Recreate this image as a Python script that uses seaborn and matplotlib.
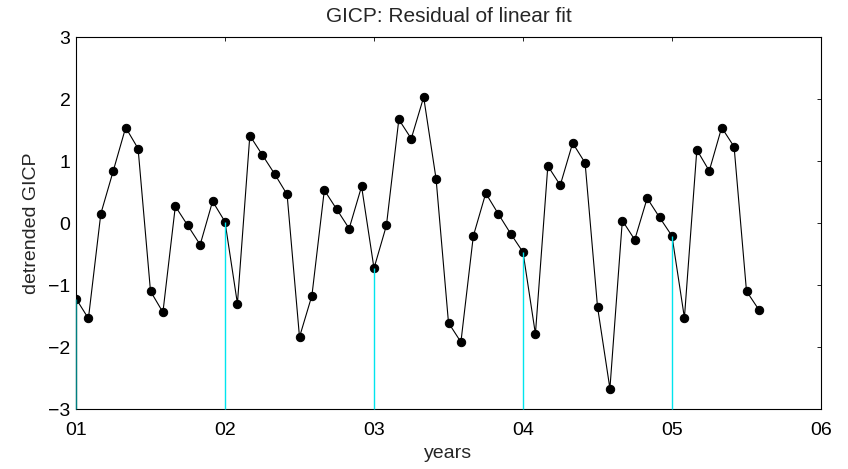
import numpy as np
import pandas as pd
import matplotlib
matplotlib.use("Agg")
import matplotlib.pyplot as plt
import seaborn as sns

# monthly residuals, starting January of year 01
residuals = [
    -1.22, -1.54, 0.15, 0.84, 1.54, 1.20, -1.10, -1.44, 0.27, -0.04, -0.35, 0.35,
    0.02, -1.30, 1.41, 1.10, 0.79, 0.46, -1.84, -1.17, 0.53, 0.22, -0.09, 0.59,
    -0.73, -0.04, 1.67, 1.36, 2.03, 0.71, -1.61, -1.92, -0.21, 0.48, 0.15, -0.17,
    -0.47, -1.79, 0.92, 0.61, 1.29, 0.97, -1.35, -2.67, 0.04, -0.27, 0.40, 0.09,
    -0.21, -1.53, 1.18, 0.84, 1.54, 1.23, -1.10, -1.40,
]
start_year = 1
months_per_year = 12
year_ticks = [1, 2, 3, 4, 5, 6]
year_labels = ["01", "02", "03", "04", "05", "06"]
y_ticks = [-3, -2, -1, 0, 1, 2, 3]

years = start_year + np.arange(len(residuals)) / months_per_year
df = pd.DataFrame({"years": years, "resid": residuals})

sns.set_style("white")
plt.rcParams["font.family"] = ["Liberation Sans", "DejaVu Sans"]

fig = plt.figure(figsize=(8.48, 4.69), dpi=100)
ax = fig.add_axes([76 / 848, 60 / 469, 745 / 848, 372 / 469])

ymin, ymax = -3, 3
# January stems
jan = df.iloc[::months_per_year]
stem_colors = ["#007f80"] + ["#00e5ee"] * (len(jan) - 1)
ax.vlines(jan["years"], ymin, jan["resid"], colors=stem_colors, linewidth=1.0,
          zorder=4, clip_on=False)

sns.lineplot(data=df, x="years", y="resid", ax=ax, color="black", linewidth=0.8,
             marker="o", markersize=6, markeredgecolor="black", zorder=3)

ax.set_xlim(year_ticks[0], year_ticks[-1])
ax.set_ylim(ymin, ymax)
ax.set_xticks(year_ticks)
ax.set_xticklabels(year_labels)
ax.set_yticks(y_ticks)
ax.tick_params(direction="in", top=True, right=True, length=3, width=0.6,
               labelsize=14, colors="black")
ax.tick_params(axis="x", pad=9)
ax.tick_params(axis="y", pad=4)
for s in ax.spines.values():
    s.set_visible(True)
    s.set_color("black")
    s.set_linewidth(0.8)
ax.set_xlabel("years", fontsize=14, labelpad=5)
ax.set_ylabel("detrended GICP", fontsize=14, labelpad=6)
ax.set_title("GICP: Residual of linear fit", fontsize=15, pad=11)
ax.grid(False)

fig.savefig("out.png", dpi=100)
